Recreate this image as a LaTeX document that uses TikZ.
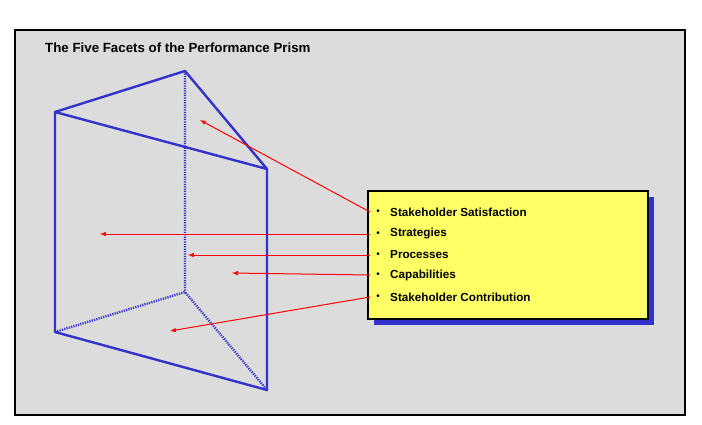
\documentclass[tikz,border=0pt]{standalone}
\usepackage{fontspec}
\setmainfont{Liberation Sans}
\begin{document}
\begin{tikzpicture}[x=1pt,y=-1pt,
  edge/.style={draw=prism,line width=2.4pt},
  hidden/.style={draw=prism,line width=2.4pt,dash pattern=on 1.2pt off 1.2pt},
  arr/.style={draw=red,line width=1pt,-latex},
  item/.style={anchor=west,font=\bfseries\fontsize{11.7}{13}\selectfont,inner sep=0pt}]
\definecolor{prism}{RGB}{51,51,204}
\definecolor{bg}{RGB}{220,220,220}
\definecolor{yel}{RGB}{255,255,102}
\useasboundingbox (0,0) rectangle (702,425);
\fill[white] (0,0) rectangle (702,425);
\draw[fill=bg,line width=1.2pt] (15,30) rectangle (685,415);
\node[anchor=west,font=\bfseries\fontsize{13.3}{15}\selectfont,inner sep=0pt] (title) at (45,48) {The Five Facets of the Performance Prism};
\coordinate (A) at (55,112); \coordinate (B) at (185,71); \coordinate (C) at (267,169);
\coordinate (D) at (55,332); \coordinate (E) at (185,292); \coordinate (F) at (267,390);
\draw[hidden] (B)--(E) (D)--(E)--(F);
\draw[edge,line join=round] (A)--(B)--(C)--cycle (A)--(D)--(F)--(C);
\fill[prism] (374,197) rectangle (654,325);
\draw[fill=yel,line width=1.2pt] (368,191) rectangle (648,319);
\foreach \y/\t/\n in {212/Stakeholder Satisfaction/i1,234/Strategies/i2,255/Processes/i3,275/Capabilities/i4,297/Stakeholder Contribution/i5}{
  \node[inner sep=0pt,font=\fontsize{10}{11}\selectfont] at (378,\y) {•};
  \node[item] (\n) at (390,\y) {\t};
  \coordinate (s\n) at (370,\y);
}
\coordinate (t1) at (200,120); \coordinate (t2) at (100,234); \coordinate (t3) at (188,255);
\coordinate (t4) at (232,273); \coordinate (t5) at (170,331);
\draw[arr] (si1)--(t1); \draw[arr] (si2)--(t2); \draw[arr] (si3)--(t3);
\draw[arr] (si4)--(t4); \draw[arr] (si5)--(t5);
\end{tikzpicture}
\end{document}
